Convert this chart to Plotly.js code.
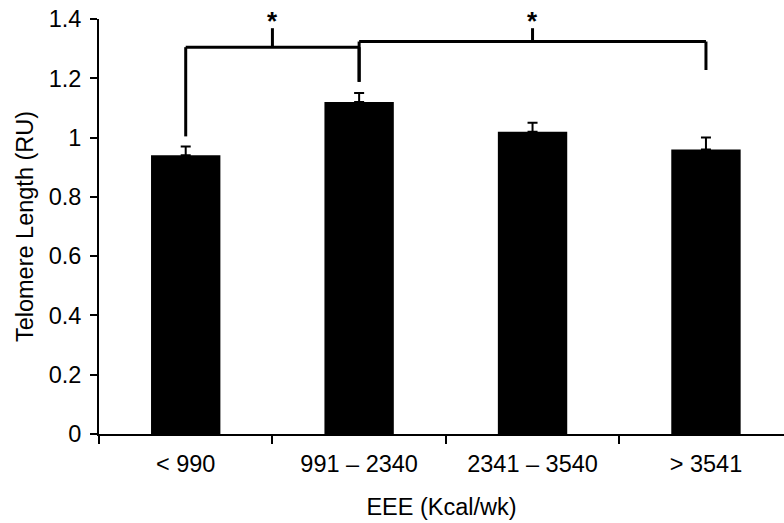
<!DOCTYPE html>
<html>
<head>
<meta charset="utf-8">
<script src="https://cdn.plot.ly/plotly-3.0.1.min.js"></script>
<style>html,body{margin:0;padding:0;background:#fff;}#chart{width:784px;height:523px;}</style>
</head>
<body>
<div id="chart"></div>
<script>
// Data
var categories = ['< 990', '991 \u2013 2340', '2341 \u2013 3540', '> 3541'];
var telomereLength = [0.94, 1.12, 1.02, 0.96];
var errorUpper = [0.03, 0.03, 0.03, 0.04];
var yTickVals = [0, 0.2, 0.4, 0.6, 0.8, 1, 1.2, 1.4];
var yTickText = ['0', '0.2', '0.4', '0.6', '0.8', '1', '1.2', '1.4'];

// Significance brackets (category indices and heights)
var bracketFrom = [0, 1];
var bracketTo = [1, 3];
var bracketTop = [1.305, 1.324];
var bracketLegFrom = [1.004, 1.188];
var bracketLegTo = [1.188, 1.228];
var bracketTickTop = [1.369, 1.369];
var bracketLabel = ['*', '*'];

var FONT = 'Liberation Sans, Arial, Helvetica, sans-serif';
var FS = 23.5;

var shapes = [];
var annotations = [];
for (var i = 0; i < bracketFrom.length; i++) {
  var a = bracketFrom[i], b = bracketTo[i], t = bracketTop[i];
  var mid = (a + b) / 2;
  var ln = {color: 'black', width: 3};
  shapes.push({type: 'line', xref: 'x', yref: 'y', x0: a, x1: a, y0: bracketLegFrom[i], y1: t, line: ln});
  shapes.push({type: 'line', xref: 'x', yref: 'y', x0: a, x1: b, y0: t, y1: t, line: ln});
  shapes.push({type: 'line', xref: 'x', yref: 'y', x0: b, x1: b, y0: t, y1: bracketLegTo[i], line: ln});
  shapes.push({type: 'line', xref: 'x', yref: 'y', x0: mid, x1: mid, y0: t, y1: bracketTickTop[i], line: ln});
  annotations.push({x: mid, y: bracketTickTop[i], xref: 'x', yref: 'y', text: '<b>' + bracketLabel[i] + '</b>',
    showarrow: false, yanchor: 'bottom', yshift: -10, font: {family: FONT, size: 26, color: 'black'}});
}

var trace = {
  type: 'bar',
  x: categories,
  y: telomereLength,
  width: 0.4,
  marker: {color: 'black', line: {width: 0}},
  error_y: {type: 'data', array: errorUpper, arrayminus: [0, 0, 0, 0], symmetric: false, visible: true,
            color: 'black', thickness: 2, width: 5},
  hoverinfo: 'none'
};

var layout = {
  width: 784, height: 523,
  margin: {l: 99, r: 0, t: 19, b: 89, pad: 0},
  paper_bgcolor: 'white', plot_bgcolor: 'white',
  showlegend: false,
  font: {family: FONT, size: FS, color: 'black'},
  xaxis: {
    type: 'category',
    range: [-0.5, 3.45],
    showline: true, linecolor: 'black', linewidth: 2,
    ticks: 'outside', tickson: 'boundaries', ticklen: 8, tickwidth: 2, tickcolor: 'black',
    showgrid: false, zeroline: false,
    tickfont: {family: FONT, size: FS, color: 'black'},
    ticklabelstandoff: 8,
    title: {text: 'EEE (Kcal/wk)', font: {family: FONT, size: FS, color: 'black'}, standoff: 22}
  },
  yaxis: {
    range: [0, 1.4],
    tickvals: yTickVals, ticktext: yTickText,
    showline: true, linecolor: 'black', linewidth: 2,
    ticks: 'outside', ticklen: 7, tickwidth: 2, tickcolor: 'black',
    showgrid: false, zeroline: false,
    tickfont: {family: FONT, size: FS, color: 'black'},
    ticklabelstandoff: 4,
    title: {text: 'Telomere Length (RU)', font: {family: FONT, size: FS, color: 'black'}, standoff: 8}
  },
  shapes: shapes,
  annotations: annotations
};

Plotly.newPlot('chart', [trace], layout, {staticPlot: true, displayModeBar: false});
</script>
</body>
</html>
